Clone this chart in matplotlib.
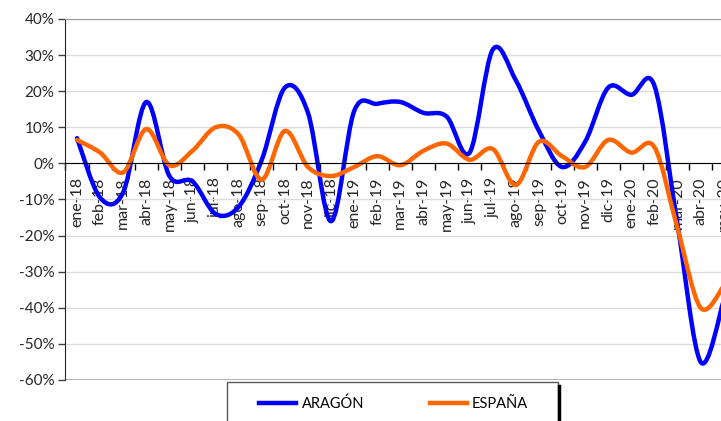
import matplotlib
matplotlib.use('Agg')
import matplotlib.pyplot as plt
from matplotlib.path import Path
from matplotlib.patches import PathPatch, Rectangle
from matplotlib.lines import Line2D

plt.rcParams['font.family'] = ['Lato', 'DejaVu Sans']

# datos (variación interanual, %)
meses = ['ene-18', 'feb-18', 'mar-18', 'abr-18', 'may-18', 'jun-18', 'jul-18', 'ago-18',
         'sep-18', 'oct-18', 'nov-18', 'dic-18', 'ene-19', 'feb-19', 'mar-19', 'abr-19',
         'may-19', 'jun-19', 'jul-19', 'ago-19', 'sep-19', 'oct-19', 'nov-19', 'dic-19',
         'ene-20', 'feb-20', 'mar-20', 'abr-20', 'may-20']
aragon = [7, -9.5, -8, 17, -3.5, -5, -14, -12, 1, 21, 14, -16, 14.5, 16.5, 17, 14,
          13, 3, 31.5, 23, 9, -1, 6, 21, 19, 21.5, -17, -55, -38]
espana = [6.5, 3, -2.5, 9.5, -0.5, 3.5, 10, 8, -4.5, 9, -1, -3.5, -1, 2, -0.5, 3.5,
          5.5, 1, 4, -6, 6, 2, -1, 6.5, 3, 4.5, -18, -40, -34]
series = ['ARAGÓN', 'ESPAÑA']
colores = ['#0000FF', '#FF6600']
yticks = list(range(-60, 41, 10))


def curva_suave(x, y):
    # linea suavizada tipo Excel (bezier con tangentes de Catmull-Rom)
    n = len(x)
    verts = [(x[0], y[0])]
    codes = [Path.MOVETO]
    for i in range(n - 1):
        x0, y0 = (x[i - 1], y[i - 1]) if i > 0 else (x[i], y[i])
        x3, y3 = (x[i + 2], y[i + 2]) if i + 2 < n else (x[i + 1], y[i + 1])
        c1 = (x[i] + (x[i + 1] - x0) / 6, y[i] + (y[i + 1] - y0) / 6)
        c2 = (x[i + 1] - (x3 - x[i]) / 6, y[i + 1] - (y3 - y[i]) / 6)
        verts += [c1, c2, (x[i + 1], y[i + 1])]
        codes += [Path.CURVE4] * 3
    return Path(verts, codes)


fig = plt.figure(figsize=(7.21, 4.21), dpi=100)
ax = fig.add_axes([0.0908, 0.0974, 0.929, 0.8575])

xs = list(range(len(meses)))
for valores, color in zip([aragon, espana], colores):
    ax.add_patch(PathPatch(curva_suave(xs, valores), fill=False, edgecolor=color,
                           lw=3.2, capstyle='round', joinstyle='round', zorder=2))

ax.set_xlim(-0.5, len(meses) - 0.5)
ax.set_ylim(-60, 40)

# eje y
ax.set_yticks(yticks)
ax.set_yticklabels([f'{v}%' for v in yticks], fontsize=11, color='#262626')
ax.tick_params(axis='y', direction='out', length=5, width=1, color='#404040', pad=3)
ax.grid(axis='y', color='#dcdcdc', lw=1, zorder=0)
ax.axhline(-60, color='#9a9a9a', lw=1.2, zorder=1)

# eje x sobre el 0
ax.spines['bottom'].set_position(('data', 0))
ax.spines['bottom'].set_color('black')
ax.spines['left'].set_color('#262626')
ax.spines['top'].set_color('#9a9a9a')
ax.spines['right'].set_visible(False)
ax.set_xticks([i + 0.5 for i in range(-1, len(meses))])
ax.set_xticklabels([])
ax.set_xticks(xs, minor=True)
ax.set_xticklabels(meses, minor=True, rotation=90, fontsize=11.5, color='#262626')
ax.tick_params(axis='x', which='major', direction='out', length=5, width=1, color='black')
ax.tick_params(axis='x', which='minor', length=0, pad=10)

# leyenda (marco dibujado aparte)
fig.add_artist(Rectangle((0.315, -0.01), 0.459, 0.103, transform=fig.transFigure,
                         facecolor='white', edgecolor='#595959', lw=1, zorder=3))
fig.add_artist(Line2D([0.775, 0.775], [0.0, 0.083], transform=fig.transFigure,
                      color='black', lw=2.5, zorder=3))
handles = [Line2D([], [], color=c, lw=3.2) for c in colores]
leg = fig.legend(handles, series, loc='center', bbox_to_anchor=(0.546, 0.041),
                 ncol=2, fontsize=10.5, handlelength=2.55, handletextpad=0.35,
                 columnspacing=4.5, frameon=False, borderpad=0)
leg.set_zorder(4)

fig.savefig('out.png', dpi=100)
